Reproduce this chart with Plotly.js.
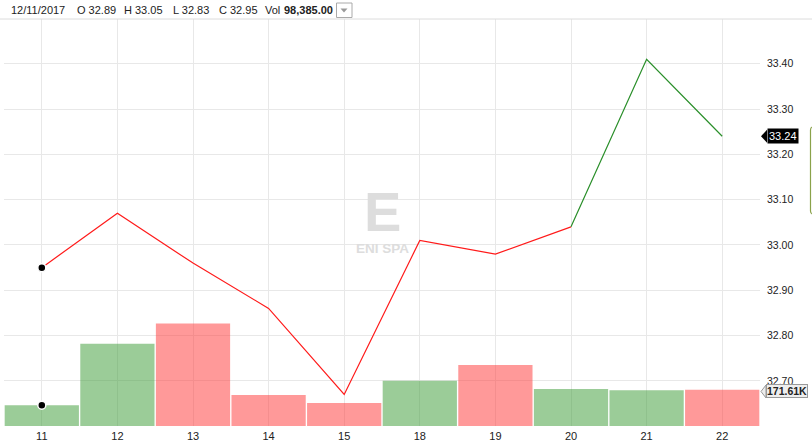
<!DOCTYPE html>
<html>
<head>
<meta charset="utf-8">
<script src="https://cdn.plot.ly/plotly-3.0.1.min.js"></script>
<style>
html,body{margin:0;padding:0;background:#fff;}
#chart{width:812px;height:445px;}
</style>
</head>
<body>
<div id="chart"></div>
<script>
// ---- data ----
const dates = ['11','12','13','14','15','18','19','20','21','22'];
const closes = [32.95, 33.07, 32.96, 32.86, 32.67, 33.01, 32.98, 33.04, 33.41, 33.24];
const volumes = [98385, 389000, 484000, 147000, 109000, 214000, 288000, 175000, 169000, 171610];
const firstOpen = 32.89;
const greenFrom = 7; // index where the line turns green
const priceTicks = [32.70, 32.80, 32.90, 33.00, 33.10, 33.20, 33.30, 33.40];
const header = {date: '12/11/2017', o: '32.89', h: '33.05', l: '32.83', c: '32.95', vol: '98,385.00'};
const lastPriceLabel = '33.24';
const lastVolLabel = '171.61K';
const watermark = {big: 'E', small: 'ENI SPA'};

// ---- layout geometry ----
const W = 812, H = 445;
const M = {l: 4, r: 52, t: 19, b: 19};
const PW = W - M.l - M.r, PH = H - M.t - M.b;
const px = x => (x - M.l) / PW;           // pixel x -> paper
const py = y => (H - M.b - y) / PH;        // pixel y -> paper
const priceRange = [32.6004, 33.4989];
const volRange = [0, 1924000];
const FONT = 'Liberation Sans, Arial, sans-serif';

const volColors = volumes.map((v, i) => {
  const prev = i === 0 ? firstOpen : closes[i - 1];
  return closes[i] >= prev ? 'rgba(55,153,49,0.5)' : 'rgba(255,51,51,0.5)';
});

const traces = [
  {type: 'bar', x: dates, y: volumes, yaxis: 'y', marker: {color: volColors, line: {width: 0}},
   hoverinfo: 'skip'},
  {type: 'scatter', mode: 'markers', x: [dates[0]], y: [volumes[0]], yaxis: 'y',
   marker: {color: '#000', size: 8, line: {color: '#fff', width: 1.5}}, hoverinfo: 'skip'},
  {type: 'scatter', mode: 'lines', x: dates.slice(0, greenFrom + 1), y: closes.slice(0, greenFrom + 1),
   yaxis: 'y2', line: {color: '#ff1a1a', width: 1.2}, hoverinfo: 'skip'},
  {type: 'scatter', mode: 'lines', x: dates.slice(greenFrom), y: closes.slice(greenFrom),
   yaxis: 'y2', line: {color: '#2a8f2a', width: 1.2}, hoverinfo: 'skip'},
  {type: 'scatter', mode: 'markers', x: [dates[0]], y: [closes[0]], yaxis: 'y2',
   marker: {color: '#000', size: 8, line: {color: '#fff', width: 1.5}}, hoverinfo: 'skip'}
];

function path(pts) {
  return pts.map((p, i) => (i ? 'L' : 'M') + p[0] + ',' + p[1]).join(' ') + ' Z';
}

const hdrFont = {family: FONT, size: 11, color: '#222'};
const hdrY = py(10);
function hdr(text, x) {
  return {xref: 'paper', yref: 'paper', x: px(x), y: hdrY, xanchor: 'left', yanchor: 'middle',
          text: text, showarrow: false, font: hdrFont, borderpad: 0};
}

const lastP = closes[closes.length - 1];
const pP = (lastP - priceRange[0]) / (priceRange[1] - priceRange[0]);
const lastV = volumes[volumes.length - 1];
const vP = (lastV - volRange[0]) / (volRange[1] - volRange[0]) - 1.8 / PH; // label sits just under bar top
const dy = 6.5 / PH;

const layout = {
  width: W, height: H,
  margin: M,
  paper_bgcolor: '#fff', plot_bgcolor: '#fff',
  showlegend: false,
  bargap: 0.018,
  font: {family: FONT, color: '#222'},
  xaxis: {type: 'category', range: [-0.5, dates.length - 0.5], showgrid: true, gridcolor: '#e8e8e8',
          gridwidth: 1, zeroline: false, showline: false, ticks: '', ticklabelstandoff: 2,
          tickfont: {size: 11, color: '#222'}, fixedrange: true},
  yaxis: {range: volRange, visible: false, showgrid: false, zeroline: false, fixedrange: true},
  yaxis2: {overlaying: 'y', side: 'right', range: priceRange, tickvals: priceTicks,
           tickformat: '.2f', showgrid: true, gridcolor: '#e8e8e8', zeroline: false,
           showline: false, ticks: '', ticklabelstandoff: 6, tickfont: {size: 10.5, color: '#222'},
           fixedrange: true},
  shapes: [
    // gridline stubs below the plot
    ...dates.map((d, i) => ({type: 'line', xref: 'x', yref: 'paper', x0: d, x1: d,
      y0: 0, y1: py(433), line: {color: '#e8e8e8', width: 1}, layer: 'below'})),
    // header separator
    {type: 'line', xref: 'paper', yref: 'paper', x0: px(0), x1: px(W), y0: 1, y1: 1,
     line: {color: '#dcdcdc', width: 1}},
    // dropdown button
    {type: 'rect', xref: 'paper', yref: 'paper', x0: px(336.5), x1: px(352), y0: py(3), y1: py(17.5),
     line: {color: '#aaa', width: 1}, fillcolor: '#fff'},
    {type: 'path', xref: 'paper', yref: 'paper',
     path: path([[px(340.5), py(8.5)], [px(347.5), py(8.5)], [px(344), py(12.5)]]),
     fillcolor: '#999', line: {width: 0}},
    // last price arrow
    {type: 'path', xref: 'paper', yref: 'paper',
     path: path([[px(761), pP], [px(767), pP + dy], [px(767), pP - dy]]),
     fillcolor: '#000', line: {width: 0}},
    // last volume arrow
    {type: 'path', xref: 'paper', yref: 'paper',
     path: path([[px(761), vP], [px(766), vP + dy], [px(766), vP - dy]]),
     fillcolor: '#eeeeee', line: {color: '#999', width: 1}},
    // green bracket at right edge
    {type: 'path', xref: 'paper', yref: 'paper',
     path: 'M' + px(813) + ',' + py(127) + ' Q' + px(810.5) + ',' + py(127) + ' ' + px(810.5) + ',' + py(130) +
           ' L' + px(810.5) + ',' + py(211) + ' Q' + px(810.5) + ',' + py(214) + ' ' + px(813) + ',' + py(214),
     line: {color: '#8aa24a', width: 1.2}}
  ],
  annotations: [
    hdr(header.date, 10),
    hdr('O ' + header.o, 76),
    hdr('H ' + header.h, 123),
    hdr('L ' + header.l, 172),
    hdr('C ' + header.c, 218),
    hdr('Vol', 264),
    hdr('<b>' + header.vol + '</b>', 283),
    {xref: 'paper', yref: 'paper', x: px(383), y: py(211), text: '<b>' + watermark.big + '</b>',
     showarrow: false, font: {family: FONT, size: 56, color: '#dddddd'},
     xanchor: 'center', yanchor: 'middle', height: 46},
    {xref: 'paper', yref: 'paper', x: px(383), y: py(248), text: '<b>' + watermark.small + '</b>',
     showarrow: false, font: {family: FONT, size: 13.5, color: '#dddddd'},
     xanchor: 'center', yanchor: 'middle'},
    {xref: 'paper', yref: 'paper', x: px(767), y: pP, xanchor: 'left', yanchor: 'middle',
     text: lastPriceLabel, showarrow: false, bgcolor: '#000', borderpad: 1,
     font: {family: FONT, size: 11, color: '#fff'}},
    {xref: 'paper', yref: 'paper', x: px(766), y: vP, xanchor: 'left', yanchor: 'middle',
     text: '<b>' + lastVolLabel + '</b>', showarrow: false, bgcolor: '#eeeeee', bordercolor: '#999',
     borderwidth: 1, borderpad: 0, height: 12,
     font: {family: FONT, size: 10.5, color: '#222'}}
  ]
};

Plotly.newPlot('chart', traces, layout, {displayModeBar: false, staticPlot: true});
</script>
</body>
</html>
